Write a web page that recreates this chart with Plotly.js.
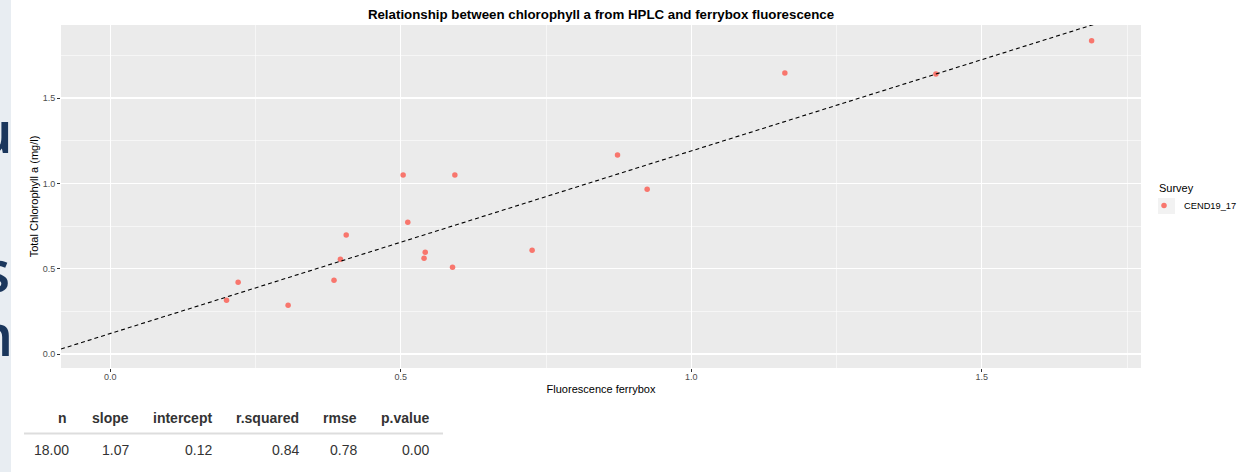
<!DOCTYPE html>
<html><head><meta charset="utf-8">
<script src="https://cdn.plot.ly/plotly-3.0.1.min.js"></script>
<style>html,body{margin:0;padding:0;background:#fff;} #chart{width:1246px;height:472px;}</style>
</head><body><div id="chart"></div>
<script>
// ---- data ----
const fluorescence = [0.200, 0.220, 0.306, 0.385, 0.396, 0.406, 0.504, 0.512, 0.542, 0.540, 0.589, 0.593, 0.726, 0.873, 0.924, 1.161, 1.421, 1.689];
const chlorophyll  = [0.315, 0.420, 0.285, 0.432, 0.555, 0.698, 1.049, 0.772, 0.596, 0.561, 0.508, 1.049, 0.608, 1.166, 0.965, 1.647, 1.641, 1.835];
const surveyName = 'CEND19_17';
const legendTitle = 'Survey';
const statNames  = ['n', 'slope', 'intercept', 'r.squared', 'rmse', 'p.value'];
const statValues = ['18.00', '1.07', '0.12', '0.84', '0.78', '0.00'];
const fitSlope = 1.07;
const fitIntercept = 0.12;
const xTickVals = [0, 0.5, 1, 1.5];
const xTickText = ['0.0', '0.5', '1.0', '1.5'];
const yTickVals = [0, 0.5, 1, 1.5];
const yTickText = ['0.0', '0.5', '1.0', '1.5'];
const xMinor = [0.25, 0.75, 1.25, 1.75];
const yMinor = [0.25, 0.75, 1.25, 1.75];
const sideLetters = ['u', 's', 'm'];

// ---- geometry ----
const W = 1246, H = 472, L = 61, R = 1141, T = 25, B = 368;
const px2x = p => (p - L) / (R - L);
const py2y = p => (B - p) / (B - T);
const xRange = [-0.0849, 1.774];
const yRange = [-0.082, 1.928];
const FONT = 'Liberation Sans, Arial, sans-serif';

const traces = [
  {
    x: fluorescence, y: chlorophyll, type: 'scatter', mode: 'markers',
    name: surveyName, marker: {color: '#F8766D', size: 5.5},
    showlegend: true, hoverinfo: 'x+y'
  },
  {
    x: xRange, y: xRange.map(v => fitSlope * v + fitIntercept),
    type: 'scatter', mode: 'lines', showlegend: false,
    line: {color: '#000', width: 1.1, dash: '4px,3px'}, hoverinfo: 'skip'
  }
];

const annotations = [];
const headRight = [68.7, 130.7, 214, 301, 358.5, 431];
const valRight  = [70.7, 130.7, 213.5, 301, 359, 431];
statNames.forEach((s, i) => annotations.push({
  text: '<b>' + s + '</b>', xref: 'paper', yref: 'paper', x: px2x(headRight[i]), y: py2y(418.3),
  xanchor: 'right', yanchor: 'middle', showarrow: false, font: {family: FONT, size: 14, color: '#333'}
}));
statValues.forEach((s, i) => annotations.push({
  text: s, xref: 'paper', yref: 'paper', x: px2x(valRight[i]), y: py2y(450),
  xanchor: 'right', yanchor: 'middle', showarrow: false, font: {family: FONT, size: 14, color: '#333'}
}));
annotations.push({
  text: legendTitle, xref: 'paper', yref: 'paper', x: px2x(1157), y: py2y(187.5),
  xanchor: 'left', yanchor: 'middle', showarrow: false, font: {family: FONT, size: 11, color: '#000'}
});
const letterY = [130, 269, 333];
const letterRight = [15, 12, 15];
sideLetters.forEach((s, i) => annotations.push({
  text: s, xref: 'paper', yref: 'paper', x: px2x(letterRight[i]), y: py2y(letterY[i]),
  xanchor: 'right', yanchor: 'middle', showarrow: false,
  font: {family: 'Open Sans, sans-serif', size: 58, color: '#1A365C', weight: 600}
}));

const shapes = [
  {type: 'rect', xref: 'paper', yref: 'paper', x0: px2x(0), x1: px2x(11), y0: py2y(H), y1: py2y(0),
   fillcolor: '#E8EDF2', line: {width: 0}, layer: 'below'},
  {type: 'line', xref: 'paper', yref: 'paper', x0: px2x(24), x1: px2x(443), y0: py2y(433.5), y1: py2y(433.5),
   line: {color: '#DDDDDD', width: 2}},
  {type: 'rect', xref: 'paper', yref: 'paper', x0: px2x(1158), x1: px2x(1175), y0: py2y(214), y1: py2y(198),
   fillcolor: '#F2F2F2', line: {width: 0}}
];

const layout = {
  width: W, height: H,
  margin: {l: L, r: W - R, t: T, b: H - B, pad: 0, autoexpand: false},
  paper_bgcolor: '#FFFFFF', plot_bgcolor: '#EBEBEB',
  font: {family: FONT, color: '#000'},
  title: {
    text: '<b>Relationship between chlorophyll a from HPLC and ferrybox fluorescence</b>',
    font: {family: FONT, size: 13.3, color: '#000'},
    xref: 'paper', x: 0.5, xanchor: 'center', yref: 'container', y: 1 - 14 / H, yanchor: 'middle'
  },
  xaxis: {
    range: xRange, tickmode: 'array', tickvals: xTickVals, ticktext: xTickText,
    showgrid: true, gridcolor: '#FFFFFF', gridwidth: 1.1, zeroline: false, showline: false,
    ticks: 'outside', ticklen: 3, tickwidth: 1, tickcolor: '#333333', ticklabelstandoff: -3,
    tickfont: {family: FONT, size: 9, color: '#4D4D4D'},
    minor: {tickmode: 'array', tickvals: xMinor, showgrid: true, gridcolor: '#FFFFFF', gridwidth: 0.55, ticks: ''},
    title: {text: 'Fluorescence ferrybox', font: {family: FONT, size: 11, color: '#000'}, standoff: 4},
    automargin: false, fixedrange: true
  },
  yaxis: {
    range: yRange, tickmode: 'array', tickvals: yTickVals, ticktext: yTickText,
    showgrid: true, gridcolor: '#FFFFFF', gridwidth: 1.1, zeroline: false, showline: false,
    ticks: 'outside', ticklen: 3, tickwidth: 1, tickcolor: '#333333',
    tickfont: {family: FONT, size: 9, color: '#4D4D4D'},
    minor: {tickmode: 'array', tickvals: yMinor, showgrid: true, gridcolor: '#FFFFFF', gridwidth: 0.55, ticks: ''},
    title: {text: 'Total Chlorophyll a (mg/l)', font: {family: FONT, size: 11, color: '#000'}, standoff: 1},
    automargin: false, fixedrange: true
  },
  showlegend: true,
  legend: {
    x: px2x(1144), y: py2y(191), xanchor: 'left', yanchor: 'top',
    bgcolor: 'rgba(0,0,0,0)', borderwidth: 0,
    font: {family: FONT, size: 9.3, color: '#000'}
  },
  annotations: annotations,
  shapes: shapes
};

Plotly.newPlot('chart', traces, layout, {displayModeBar: false, staticPlot: true});
</script>
</body></html>
